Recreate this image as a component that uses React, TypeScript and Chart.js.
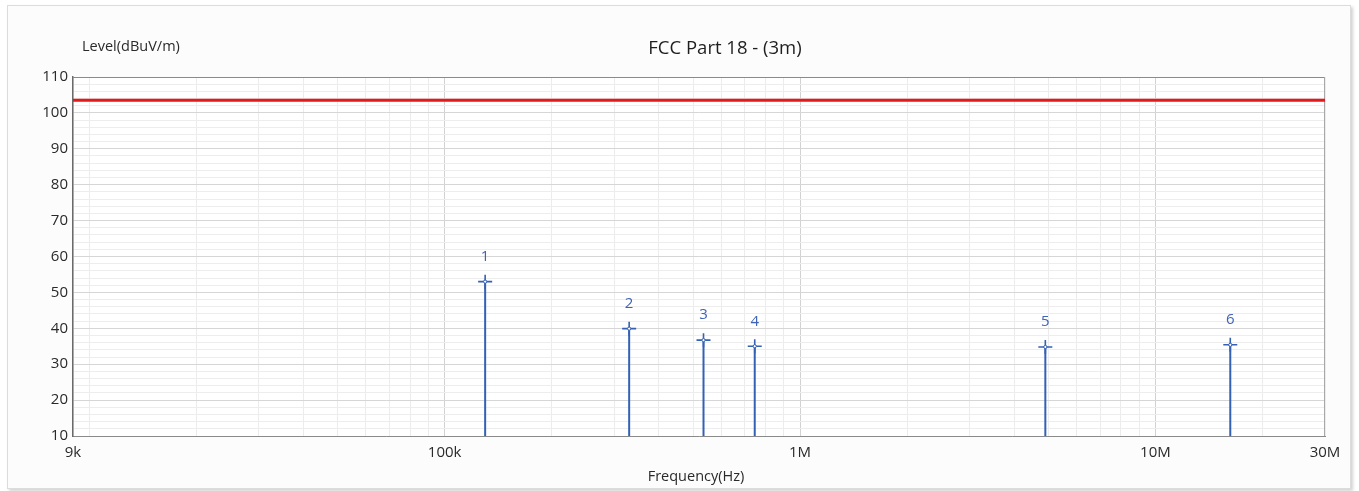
import React, { useEffect, useRef } from "react";
import { Chart, registerables } from "chart.js";

Chart.register(...registerables);

const chartTitle = "FCC Part 18 - (3m)";
const yTitle = "Level(dBuV/m)";
const xTitle = "Frequency(Hz)";

const peakLabels = ["1", "2", "3", "4", "5", "6"];
const peakFreqs = [130000, 330500, 535000, 745600, 4900000, 16240000];
const peakLevels = [53.0, 39.9, 36.7, 35.0, 34.8, 35.4];

const limitFreqs = [9000, 30000000];
const limitLevels = [103.5, 103.5];

const xTickValues = [
  9000, 10000, 20000, 30000, 40000, 50000, 60000, 70000, 80000, 90000,
  100000, 200000, 300000, 400000, 500000, 600000, 700000, 800000, 900000,
  1000000, 2000000, 3000000, 4000000, 5000000, 6000000, 7000000, 8000000, 9000000,
  10000000, 20000000, 30000000,
];
const xTickLabels: Record<number, string> = {
  9000: "9k",
  100000: "100k",
  1000000: "1M",
  10000000: "10M",
  30000000: "30M",
};
const majorX = [100000, 1000000, 10000000];

const FONT = "'Open Sans', 'DejaVu Sans', sans-serif";
const STEM = "#3461b4";

export default function App() {
  const ref = useRef<HTMLCanvasElement | null>(null);

  useEffect(() => {
    if (!ref.current) return;

    const stemDatasets = peakFreqs.map((f, i) => ({
      type: "line" as const,
      data: [
        { x: f, y: 10 },
        { x: f, y: peakLevels[i] },
      ],
      borderColor: STEM,
      borderWidth: 2,
      pointRadius: [0, 7],
      pointStyle: "cross" as const,
      pointBorderColor: STEM,
      pointBorderWidth: 1.6,
      fill: false,
      order: 2,
    }));

    const centerDots = {
      type: "scatter" as const,
      data: peakFreqs.map((f, i) => ({ x: f, y: peakLevels[i] })),
      pointRadius: 1.6,
      pointBackgroundColor: "#ffffff",
      pointBorderColor: STEM,
      pointBorderWidth: 1,
      order: 1,
    };

    const limit = {
      type: "line" as const,
      data: limitFreqs.map((f, i) => ({ x: f, y: limitLevels[i] })),
      borderColor: "#e3191c",
      borderWidth: 3,
      pointRadius: 0,
      fill: false,
      order: 3,
    };

    const decor = {
      id: "decor",
      beforeDraw(chart: any) {
        const { ctx, chartArea } = chart;
        ctx.save();
        ctx.fillStyle = "#ffffff";
        ctx.fillRect(chartArea.left, chartArea.top, chartArea.right - chartArea.left, chartArea.bottom - chartArea.top);
        ctx.restore();
      },
      beforeDatasetsDraw(chart: any) {
        const { ctx, chartArea } = chart;
        ctx.save();
        ctx.strokeStyle = "#8a8a8a";
        ctx.lineWidth = 1;
        ctx.beginPath();
        ctx.moveTo(chartArea.left, chartArea.top + 0.5);
        ctx.lineTo(chartArea.right, chartArea.top + 0.5);
        ctx.stroke();
        ctx.strokeStyle = "#a8a8a8";
        ctx.beginPath();
        ctx.moveTo(chartArea.right - 0.5, chartArea.top);
        ctx.lineTo(chartArea.right - 0.5, chartArea.bottom);
        ctx.stroke();
        ctx.restore();
      },
      afterDraw(chart: any) {
        const { ctx } = chart;
        const xs = chart.scales.x;
        const ys = chart.scales.y;
        ctx.save();
        ctx.textAlign = "center";
        ctx.textBaseline = "middle";
        ctx.fillStyle = "#1e1e1e";
        ctx.font = `18.5px ${FONT}`;
        ctx.fillText(chartTitle, 725, 49);
        ctx.fillStyle = "#2a2a2a";
        ctx.font = `14.5px ${FONT}`;
        ctx.textAlign = "left";
        ctx.fillText(yTitle, 82, 47);
        ctx.textAlign = "center";
        ctx.fillText(xTitle, 696, 477);
        ctx.fillStyle = "#3f63b5";
        ctx.font = `15px ${FONT}`;
        peakFreqs.forEach((f, i) => {
          const px = xs.getPixelForValue(f);
          const py = ys.getPixelForValue(peakLevels[i]);
          ctx.fillText(peakLabels[i], px, py - 25);
        });
        ctx.restore();
      },
    };

    const chart = new Chart(ref.current, {
      type: "line",
      data: { datasets: [limit, ...stemDatasets, centerDots] as any },
      options: {
        animation: false,
        responsive: true,
        maintainAspectRatio: false,
        layout: { padding: { top: 77, right: 34, left: 0, bottom: 0 } },
        plugins: {
          legend: { display: false },
          title: { display: false },
          tooltip: { enabled: false },
        },
        scales: {
          x: {
            type: "logarithmic",
            min: 9000,
            max: 30000000,
            afterBuildTicks: (scale: any) => {
              scale.ticks = xTickValues.map((v) => ({ value: v }));
            },
            afterFit: (scale: any) => {
              scale.height = 55;
            },
            ticks: {
              autoSkip: false,
              maxRotation: 0,
              padding: 8,
              color: "#2a2a2a",
              font: { family: FONT, size: 15 },
              callback: (v: any) => xTickLabels[Number(v)] ?? "",
            },
            grid: {
              drawTicks: false,
              color: (c: any) => (majorX.includes(c.tick?.value) ? "#d2d2d2" : "#ececec"),
              lineWidth: 1,
            },
            border: { color: "#8a8a8a", width: 1 },
          },
          y: {
            type: "linear",
            min: 10,
            max: 110,
            afterBuildTicks: (scale: any) => {
              const t = [];
              for (let v = 10; v <= 110; v += 2) t.push({ value: v });
              scale.ticks = t;
            },
            afterFit: (scale: any) => {
              scale.width = 73;
            },
            ticks: {
              autoSkip: false,
              padding: 5,
              color: "#2a2a2a",
              font: { family: FONT, size: 15 },
              callback: (v: any) => (Number(v) % 10 === 0 ? String(v) : ""),
            },
            grid: {
              drawTicks: false,
              color: (c: any) => (c.tick?.value % 10 === 0 ? "#d6d6d6" : "#ededed"),
              lineWidth: 1,
            },
            border: { color: "#6a6a6a", width: 1.5 },
          },
        },
      },
      plugins: [decor],
    });
    return () => chart.destroy();
  }, []);

  return (
    <div style={{ position: "fixed", left: 0, top: 0, width: 1359, height: 491, background: "#ffffff" }}>
      <div
        style={{
          position: "absolute",
          left: 7,
          top: 5,
          width: 1342,
          height: 482,
          border: "1px solid #dcdcdc",
          boxShadow: "2px 2px 3px rgba(0,0,0,0.18)",
          background: "#fcfcfc",
        }}
      />
      <div style={{ position: "absolute", left: 0, top: 0, width: 1359, height: 491 }}>
        <canvas ref={ref} />
      </div>
    </div>
  );
}
